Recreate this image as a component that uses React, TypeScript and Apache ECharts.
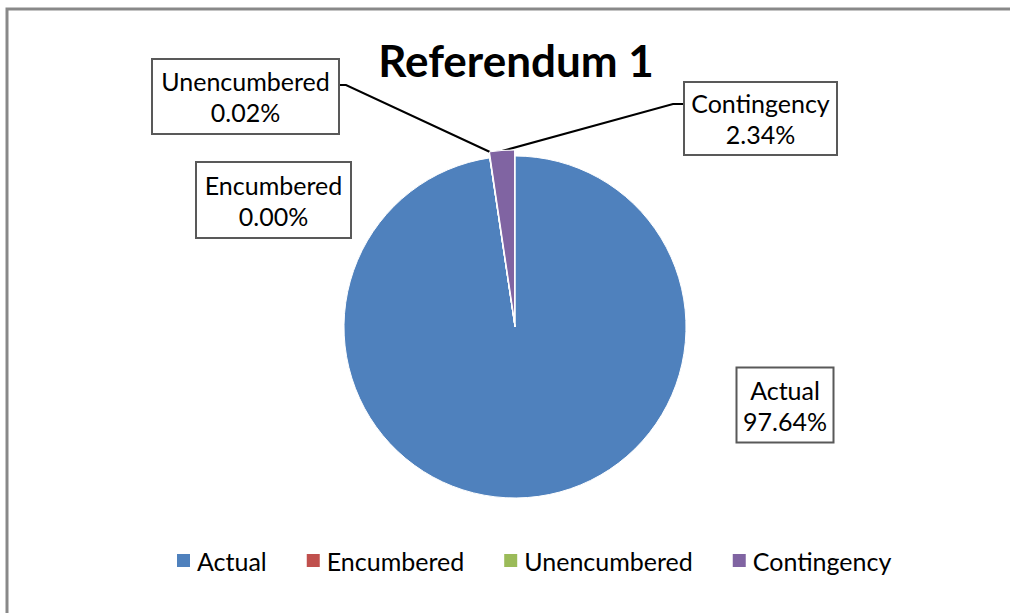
import React, { useEffect, useRef } from "react";
import * as echarts from "echarts";

const titleText = "Referendum 1";
const categories = ["Actual", "Encumbered", "Unencumbered", "Contingency"];
const percents = [97.64, 0.0, 0.02, 2.34];
const colors = ["#4F81BD", "#C0504D", "#9BBB59", "#8064A2"];
const explodedIndex = 3;

const FONT = "Lato, 'Noto Sans', sans-serif";

// label box layout: centre x, centre y, width, height
const labelBoxes = [
  { cx: 785, cy: 405, w: 95, h: 73 },
  { cx: 273.5, cy: 200, w: 153, h: 74 },
  { cx: 245.5, cy: 96.5, w: 185, h: 73 },
  { cx: 760.5, cy: 118.5, w: 151, h: 71 },
];
const leaderLines: (number[][] | null)[] = [
  null,
  null,
  [[490, 152], [346, 85], [339, 85]],
  [[502, 151], [673, 104], [684, 104]],
];

const LINE_H = 31;
const CENTER = [515, 327];
const RADIUS = 171;
const EXPLODE = 6;

export default function App() {
  const ref = useRef<HTMLDivElement>(null);
  useEffect(() => {
    document.body.style.margin = "0";
    if (!ref.current) return;
    const chart = echarts.init(ref.current, undefined, { renderer: "svg" });

    const total = percents.reduce((a, b) => a + b, 0);
    const before = percents.slice(0, explodedIndex).reduce((a, b) => a + b, 0);
    const midAngle = ((before + percents[explodedIndex] / 2) / total) * Math.PI * 2;
    const dx = EXPLODE * Math.sin(midAngle);
    const dy = -EXPLODE * Math.cos(midAngle);

    const mainData = categories.map((name, i) => {
      const b = labelBoxes[i];
      const pad = (b.h - 2 * LINE_H) / 2;
      return {
        name,
        value: percents[i],
        itemStyle: { color: i === explodedIndex ? "rgba(0,0,0,0)" : colors[i] },
        label: { width: b.w, padding: [pad, 0, pad, 0] },
        labelLine: { show: leaderLines[i] !== null },
      };
    });
    const explodedData = categories.map((name, i) => ({
      name,
      value: percents[i],
      itemStyle:
        i === explodedIndex
          ? { color: colors[i], borderColor: "#ffffff", borderWidth: 1 }
          : { color: "rgba(0,0,0,0)", borderWidth: 0 },
    }));

    chart.setOption({
      animation: false,
      backgroundColor: "#ffffff",
      title: {
        text: titleText,
        left: 516,
        textAlign: "center",
        top: 38,
        padding: 0,
        textStyle: {
          fontFamily: FONT,
          fontWeight: "bold",
          fontSize: 44,
          color: "#000",
          lineHeight: 44,
        },
      },
      graphic: [
        {
          type: "rect",
          silent: true,
          shape: { x: 7, y: 9, width: 1200, height: 800 },
          style: { fill: "none", stroke: "#898989", lineWidth: 3 },
          z: 100,
        },
      ],
      legend: {
        data: categories.map((name, i) => ({ name, itemStyle: { color: colors[i] } })),
        left: 175,
        top: 548,
        padding: 0,
        icon: "rect",
        itemWidth: 15,
        itemHeight: 15,
        itemGap: 38,
        selectedMode: false,
        textStyle: {
          fontFamily: FONT,
          fontSize: 25,
          color: "#000",
          padding: [0, 0, 0, 1],
        },
      },
      series: [
        {
          type: "pie",
          name: "main",
          center: CENTER,
          radius: RADIUS,
          startAngle: 90,
          clockwise: true,
          avoidLabelOverlap: false,
          stillShowZeroSum: true,
          emphasis: { disabled: true },
          itemStyle: { borderColor: "#ffffff", borderWidth: 1 },
          z: 2,
          label: {
            show: true,
            position: "outside",
            fontFamily: FONT,
            fontSize: 25,
            color: "#000",
            lineHeight: LINE_H,
            backgroundColor: "#fff",
            borderColor: "#595959",
            borderWidth: 2,
            overflow: "none",
            formatter: (p: any) => `${p.name}\n${Number(p.value).toFixed(2)}%`,
          },
          labelLine: {
            show: true,
            lineStyle: { color: "#000", width: 2 },
          },
          labelLayout: (params: any) => {
            const i = params.dataIndex;
            const b = labelBoxes[i];
            const out: any = {
              x: b.cx,
              y: b.cy,
              align: "center",
              verticalAlign: "middle",
            };
            if (leaderLines[i]) out.labelLinePoints = leaderLines[i];
            return out;
          },
          data: mainData,
        },
        {
          type: "pie",
          name: "exploded",
          center: [CENTER[0] + dx, CENTER[1] + dy],
          radius: RADIUS,
          startAngle: 90,
          clockwise: true,
          silent: true,
          z: 3,
          emphasis: { disabled: true },
          label: { show: false },
          labelLine: { show: false },
          data: explodedData,
        },
      ],
    });
    return () => chart.dispose();
  }, []);
  return <div ref={ref} style={{ width: 1010, height: 613 }} />;
}
